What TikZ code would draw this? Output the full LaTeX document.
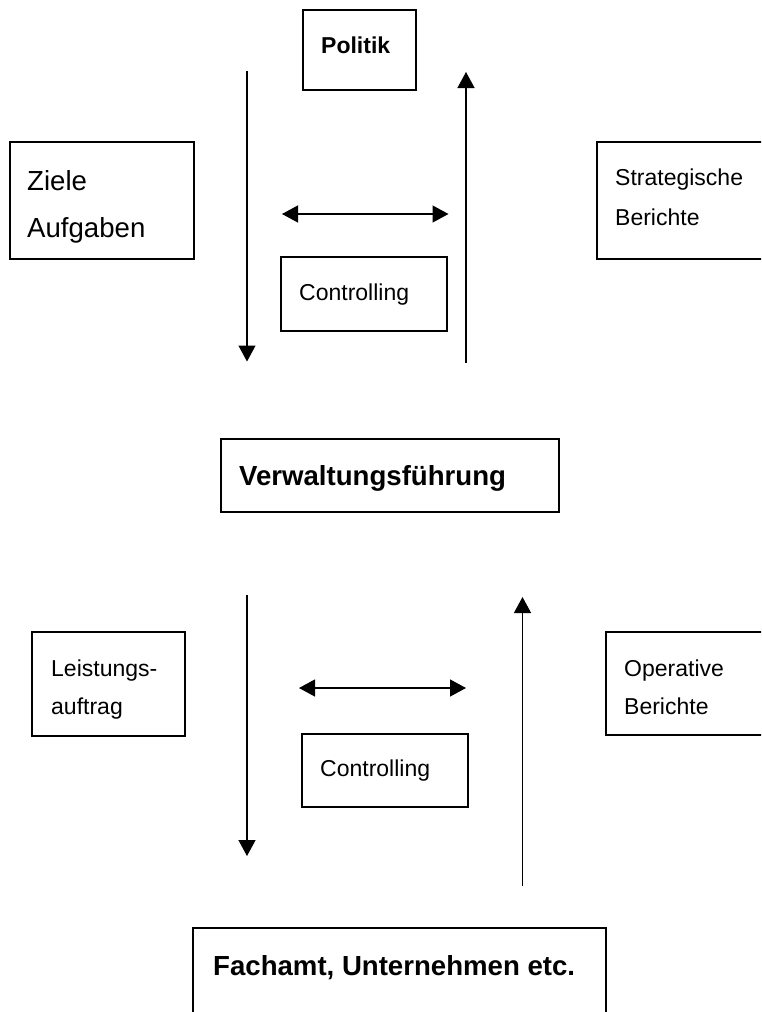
\documentclass[tikz,border=0pt]{standalone}
\usepackage{fontspec}
\setmainfont{Liberation Sans}
\usetikzlibrary{arrows.meta}
\begin{document}
\begin{tikzpicture}[x=1pt,y=-1pt,
  box/.style={draw, line width=1.3pt, inner sep=0pt, rectangle},
  txt/.style={anchor=base west, inner sep=0pt},
  small/.style={font=\fontsize{23}{28}\selectfont},
  large/.style={font=\fontsize{27.6}{33}\selectfont},
  smallbold/.style={font=\fontsize{23}{28}\selectfont\bfseries},
  largebold/.style={font=\fontsize{27.6}{33}\selectfont\bfseries},
  flow/.style={line width=1.3pt, -{Triangle[length=16pt,width=17pt]}},
  both/.style={line width=1.3pt, {Triangle[length=16pt,width=17pt]}-{Triangle[length=16pt,width=17pt]}}]
\useasboundingbox (0,0) rectangle (761,1012);
\clip (0,0) rectangle (761,1012);

% boxes
\node[box, minimum width=113pt, minimum height=80pt]  (politik) at (359.5,50) {};
\node[box, minimum width=184pt, minimum height=117pt] (ziele)   at (102,200.5) {};
\node[box, minimum width=193pt, minimum height=117pt] (strat)   at (693.5,200.5) {};
\node[box, minimum width=166pt, minimum height=74pt]  (ctrlA)   at (364,294) {};
\node[box, minimum width=338pt, minimum height=73pt]  (verw)    at (390,475.5) {};
\node[box, minimum width=153pt, minimum height=104pt] (leist)   at (108.5,684) {};
\node[box, minimum width=184pt, minimum height=103pt] (oper)    at (698,683.5) {};
\node[box, minimum width=166pt, minimum height=73pt]  (ctrlB)   at (385,770.5) {};
\node[box, minimum width=413pt, minimum height=102pt] (fach)    at (399.5,979) {};

% labels
\node[txt, smallbold] (tPolitik) at (321,53.3) {Politik};
\node[txt, large] (tZiele) at (27,190) {Ziele};
\node[txt, large] (tAufg)  at (27,237.5) {Aufgaben};
\node[txt, small] (tStrat) at (615,185.3) {Strategische};
\node[txt, small] (tBerA)  at (615,225) {Berichte};
\node[txt, small] (tCtrlA) at (299,300.7) {Controlling};
\node[txt, largebold] (tVerw) at (239,485) {Verwaltungsführung};
\node[txt, small] (tLeist) at (51,676) {Leistungs-};
\node[txt, small] (tAuftr) at (51,714) {auftrag};
\node[txt, small] (tOper)  at (624,676) {Operative};
\node[txt, small] (tBerB)  at (624,714) {Berichte};
\node[txt, small] (tCtrlB) at (320,776.7) {Controlling};
\node[txt, largebold] (tFach) at (213,975.5) {Fachamt, Unternehmen etc.};

% arrow end points
\coordinate (dA1) at (247,71);   \coordinate (dA2) at (247,361.5);
\coordinate (uA1) at (466,363);  \coordinate (uA2) at (466,72);
\coordinate (hA1) at (282,214);  \coordinate (hA2) at (448.5,214);
\coordinate (dB1) at (247,595);  \coordinate (dB2) at (247,856);
\coordinate (uB1) at (522.5,886);\coordinate (uB2) at (522.5,597);
\coordinate (hB1) at (299,688);  \coordinate (hB2) at (466,688);

% arrows
\draw[flow] (dA1) -- (dA2);
\draw[flow] (uA1) -- (uA2);
\draw[both] (hA1) -- (hA2);
\draw[flow] (dB1) -- (dB2);
\draw[flow] (uB1) -- (uB2);
\draw[both] (hB1) -- (hB2);
\end{tikzpicture}
\end{document}
